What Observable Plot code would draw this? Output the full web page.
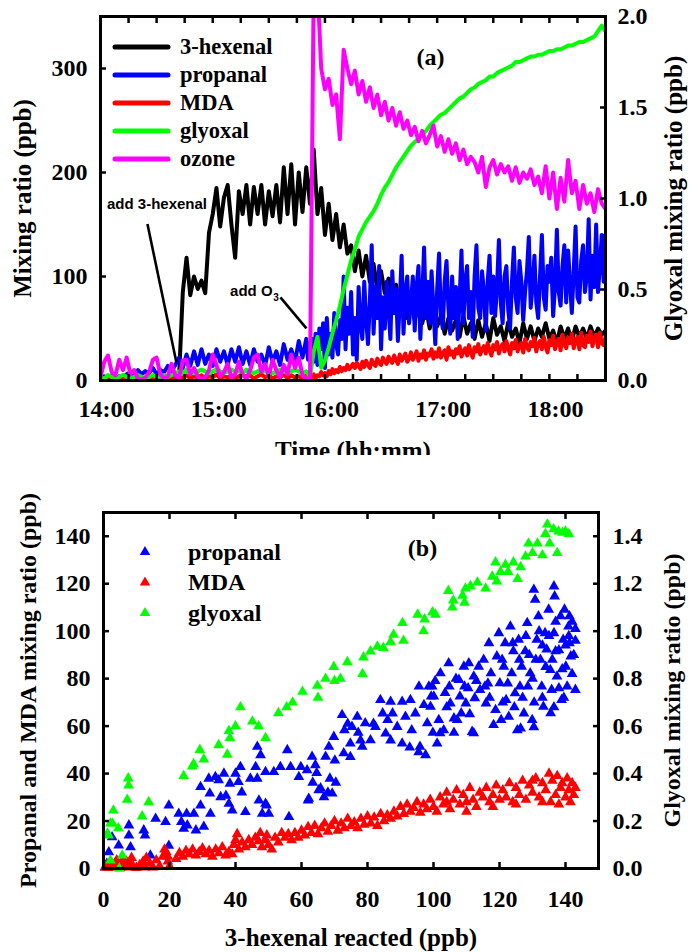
<!DOCTYPE html>
<html><head><meta charset="utf-8">
<script src="https://cdn.jsdelivr.net/npm/d3@7"></script>
<script src="https://cdn.jsdelivr.net/npm/@observablehq/plot@0.6"></script>
<style>
body{margin:0;background:#fff;}
#chart{width:694px;}
#chart svg{display:block;overflow:hidden;}
</style></head><body><div id="chart"></div>
<script>
// ---------- Panel (a): time series (minutes after 14:00) ----------
const sampleMinutes = [
  0,2,4,6,8,10,12,14,16,18,
  20,22,24,26,28,30,32,34,36,38,
  40,42,44,46,48,50,52,54,56,58,
  60,62,64,66,68,70,72,74,76,78,
  80,82,84,86,88,90,92,94,96,98,
  100,102,104,106,108,110,112,114,116,118,
  120,122,124,126,128,130,132,134,136,138,
  140,142,144,146,148,150,152,154,156,158,
  160,162,164,166,168,170,172,174,176,178,
  180,182,184,186,188,190,192,194,196,198,
  200,202,204,206,208,210,212,214,216,218,
  220,222,224,226,228,230,232,234,236,238,
  240,242,244,246,248,250,252,254,256,258,
  260,262,264,266,268,270];
// finer sampling used for the two fast-fluctuating products
const fineMinutes = [
  0,2,4,6,8,10,12,14,16,18,
  20,22,24,26,28,30,32,34,36,38,
  40,42,44,46,48,50,52,54,56,58,
  60,62,64,66,68,70,72,74,76,78,
  80,82,84,86,88,90,92,94,96,98,
  100,102,104,106,108,110,
  111,112,113,114,115,116,117,118,119,120,
  121,122,123,124,125,126,127,128,129,130,
  131,132,133,134,135,136,137,138,139,140,
  141,142,143,144,145,146,147,148,149,150,
  151,152,153,154,155,156,157,158,159,160,
  161,162,163,164,165,166,167,168,169,170,
  171,172,173,174,175,176,177,178,179,180,
  181,182,183,184,185,186,187,188,189,190,
  191,192,193,194,195,196,197,198,199,200,
  201,202,203,204,205,206,207,208,209,210,
  211,212,213,214,215,216,217,218,219,220,
  221,222,223,224,225,226,227,228,229,230,
  231,232,233,234,235,236,237,238,239,240,
  241,242,243,244,245,246,247,248,249,250,
  251,252,253,254,255,256,257,258,259,260,
  261,262,263,264,265,266,267,268,269,270];
const hexenalPpb = [
  0,1,0,1,2,1,0,1,1,2,
  1,0,1,2,1,1,0,1,2,1,
  1,3,85,118,82,100,88,96,84,142,
  160,185,148,176,188,150,118,182,160,188,
  150,186,160,188,150,182,158,188,152,205,
  160,208,150,200,162,205,170,222,160,185,
  140,170,135,160,128,150,122,130,105,125,
  100,120,95,112,88,105,84,98,75,92,
  68,85,60,78,58,72,55,70,50,66,
  52,62,45,60,48,58,42,62,45,55,
  40,58,42,55,38,60,44,52,38,56,
  42,50,36,55,40,52,38,50,42,55,
  40,48,36,52,40,50,38,52,42,50,
  40,52,42,50,44,48];
const propanalPpb = [
  2,4,3,5,2,4,3,6,8,5,
  10,6,9,7,12,6,10,8,14,9,
  15,22,12,25,14,28,15,30,16,25,
  14,30,18,28,15,30,18,32,16,28,
  15,30,18,25,14,32,18,28,15,35,
  20,30,18,38,22,40,
  20,35,40,18,45,15,50,30,55,12,
  60,25,45,22,65,35,25,58,40,100,
  30,70,45,85,25,60,20,90,55,40,
  95,60,35,75,130,45,90,60,110,30,
  80,50,95,70,40,105,65,88,38,75,
  120,45,85,100,55,75,100,48,90,110,
  40,80,128,60,95,55,105,70,35,88,
  122,62,50,95,115,70,45,100,60,90,
  40,78,125,55,95,110,60,85,42,100,
  130,70,60,105,85,48,95,120,65,100,
  62,90,135,75,55,100,110,68,50,95,
  128,80,65,115,95,58,85,105,138,70,
  90,120,75,60,100,140,80,68,110,95,
  118,62,90,145,85,72,110,130,75,125,
  95,65,105,148,80,75,115,130,85,100,
  155,78,120,90,150,85,110,140,95,140];
const mdaPpb = [
  1,2,0,3,1,2,0,1,3,2,
  1,0,2,3,1,2,0,1,3,2,
  4,2,3,5,2,4,3,5,2,4,
  3,6,2,4,3,5,2,4,6,3,
  5,2,4,6,3,5,2,4,3,6,
  2,5,3,4,2,5,
  2,4,3,6,2,5,4,8,5,7,
  4,9,6,11,7,10,8,13,9,12,
  10,15,11,13,16,12,17,14,11,18,
  13,19,15,12,20,16,14,21,17,15,
  22,18,16,23,19,17,24,20,16,25,
  19,22,26,18,21,27,20,23,28,19,
  25,22,29,20,26,24,30,21,27,23,
  31,22,26,29,20,32,25,28,22,30,
  26,33,23,28,31,24,34,27,22,32,
  28,35,25,30,33,26,36,29,24,34,
  30,37,26,32,35,28,38,31,25,36,
  31,39,28,33,36,27,40,32,29,37,
  33,41,28,35,38,30,42,33,27,39,
  34,43,30,36,40,29,44,35,31,41,
  36,45,31,38,42,30,46,34,32,43,
  37,47,33,40,44,32,46,36,34,42];
const glyoxalTopPpb = [
  0.02,0.01,0.03,0.02,0.01,0.02,0.03,0.02,0.01,0.02,
  0.03,0.02,0.01,0.02,0.03,0.02,0.02,0.03,0.02,0.03,
  0.04,0.05,0.04,0.06,0.05,0.04,0.05,0.06,0.05,0.04,
  0.05,0.06,0.05,0.04,0.05,0.06,0.05,0.05,0.04,0.06,
  0.05,0.04,0.05,0.06,0.05,0.05,0.04,0.05,0.06,0.05,
  0.04,0.05,0.06,0.05,0.04,0.05,0.02,0.16,0.24,0.07,
  0.11,0.18,0.26,0.33,0.41,0.50,0.58,0.66,0.72,0.79,
  0.83,0.87,0.90,0.93,0.97,1.02,1.06,1.09,1.13,1.17,
  1.20,1.23,1.26,1.29,1.31,1.33,1.35,1.37,1.40,1.42,
  1.44,1.46,1.47,1.49,1.51,1.53,1.55,1.56,1.58,1.60,
  1.61,1.63,1.64,1.65,1.67,1.67,1.69,1.70,1.71,1.72,
  1.73,1.75,1.75,1.76,1.77,1.78,1.78,1.79,1.79,1.80,
  1.81,1.81,1.82,1.82,1.83,1.84,1.84,1.85,1.86,1.86,
  1.87,1.88,1.89,1.92,1.95,1.92];
const ozonePpb = [
  3,18,24,8,5,20,10,22,6,10,
  2,1,3,8,20,22,6,2,4,16,
  5,2,19,20,6,12,4,1,3,10,
  25,15,4,8,16,3,6,18,5,2,
  10,22,25,8,16,4,20,10,3,15,
  6,25,12,22,5,2,0,380,380,300,
  280,290,265,275,232,318,300,285,298,275,
  288,268,282,262,275,255,268,250,262,245,
  258,242,250,236,244,230,240,228,236,245,
  225,235,220,232,218,228,212,222,208,215,
  210,200,215,186,205,212,198,208,200,206,
  192,205,190,200,194,203,188,196,180,206,
  175,200,165,195,172,212,180,192,165,188,
  170,180,162,184,170,165];

const timeMinorTicks = [0,15,30,45,60,75,90,105,120,135,150,165,180,195,210,225,240,255,270];
const timeLabelTicks = [0,60,120,180,240];
const timeLabels = ["14:00","15:00","16:00","17:00","18:00"];
const leftTicksA = [0,100,200,300];
const glyoxalTicksA = [0,0.5,1.0,1.5,2.0];
const seriesNamesA = ["3-hexenal","propanal","MDA","glyoxal","ozone"];
const seriesColorsA = ["#000000","#0000ff","#ff0000","#00ff00","#ff00ff"];

// ---------- Panel (b): scatter vs. 3-hexenal reacted ----------
const propanalPoints = [
  [0.5,0.5],[1,2],[1.6,6.9],[2.6,13.2],[4.6,9.7],[7.7,18.2],[7.7,13.9],[8.2,9.0],[12.2,16.1],[12.6,13.9],
  [14.2,5.5],[15.8,21],[18.8,19.6],[19.8,26.6],[19.8,9.6],[22.8,23.1],[23.6,19.6],[24.3,16.8],[25.2,23.1],[25.4,18.2],
  [27.4,23.1],[28.0,16.1],[29.4,26.6],[30.4,17.6],[29.4,34.4],[31.9,37.9],[32.2,31.6],[32.4,23.1],[33.9,38.6],[34.9,37.2],
  [35.5,30.1],[36.5,40.0],[37.1,30.7],[38.0,27.3],[38.3,35.8],[39.0,24.5],[40.0,40.0],[40.9,36.5],[41.5,42.8],[41.9,32.1],
  [43.0,23.8],[44.5,37.9],[46.1,42.8],[46.6,51.3],[46.6,37.9],[47.1,28.7],[47.6,47.8],[48.1,23.1],[49.1,40.7],[49.4,26.6],
  [49.1,27.3],[50.1,23.1],[51.6,40.7],[53.6,42.8],[55.7,49.9],[56.7,42.8],[56.2,21.7],[59.2,38.6],[59.8,42.8],[61.7,41.4],
  [62.2,29.4],[63.2,47.1],[63.4,36.2],[64.2,43.6],[64.6,40.3],[65.2,33.0],[66.8,30.1],[67.3,47.1],[68.3,51.3],[68.6,37.9],
  [69.3,31.6],[69.8,55.5],[70.1,45.5],[70.4,36.2],[72.3,64.7],[73.0,58.3],[74.8,52.7],[75.3,59.7],[76.9,64.0],[77.2,57.2],
  [78.4,51.3],[79.3,61.2],[80.9,54.1],[82.4,59.7],[83.9,71.0],[84.6,65.4],[85.5,56.9],[86.1,62.6],[87.0,70.3],[87.6,65.4],
  [89.0,59.7],[90.5,70.3],[90.5,52.7],[91.5,64.0],[93.0,71.0],[93.4,58.3],[94.5,65.4],[95.6,76.7],[95.9,51.3],[97.1,68.9],
  [98.1,61.2],[98.6,76.7],[99.3,72.5],[99.8,57.2],[62,28.7],[65.8,33.8],[68,32],[72.8,48.6],[74,61],[74.8,47],
  [77.9,54],[81.8,61],[87,54],[92.8,51],[95.5,49],[97.6,47.8],[102,57],[107.2,62.6],[112.2,57],[118.2,60.5],
  [126.4,59],[130.4,59.6],[135.5,65.5],[136.5,68],
  [99.1,68.2],[99.6,76.7],[100.1,72.5],[102.1,82.3],[101.6,62.6],[101.1,52.7],[103.1,58.3],[104.6,86.5],[104.8,76.7],[105.1,69.6],
  [106.2,63.3],[106.2,57.2],[107.7,79.5],[108.0,72.5],[108.4,65.4],[109.2,85.1],[109.4,76.7],[109.8,69.6],[110.7,86.5],[111.7,57.6],
  [112.2,80.9],[112.5,71.8],[113.7,85.1],[114.1,75.3],[115.2,88.0],[115.6,76.7],[115.9,69.6],[116.8,95.0],[117.4,82.3],[118.8,66.8],
  [119.2,89.4],[119.8,99.2],[120.1,78.1],[120.5,62.6],[121.3,85.1],[121.7,95.0],[122.0,71.0],[122.8,64.0],[123.3,102.0],[123.7,82.3],
  [124.2,91.6],[124.7,73.9],[125.4,58.3],[125.8,96.4],[126.2,76.7],[126.7,85.1],[127.4,65.4],[127.8,91.6],[128.4,103.5],[128.6,76.7],
  [129.3,82.3],[129.9,62.6],[130.4,117.5],[130.8,113.3],[131.3,96.4],[131.8,106.3],[132.4,88.0],[132.8,76.7],[133.3,68.2],[133.8,99.2],
  [134.3,92.3],[134.9,109.1],[135.4,83.7],[135.8,75.3],[136.5,118.9],[136.5,99.2],[136.7,114.7],[137.0,91.6],[137.4,80.9],[138.5,106.3],
  [138.8,71.0],[139.3,96.4],[139.7,109.1],[140.1,85.1],[140.5,76.7],[140.9,102.0],[141.2,95.0],[141.6,89.4],[143.0,75.3],[141.2,106.3],
  [120.8,88],[122.5,78],[124,95],[126,88],[128,98],[129,90],[130,80],[131,88],[132,100],[133,94],
  [134,85],[135,98],[136,88],[137,104],[138,92],[139,84],[140,94],[141,98],[142,82],[142.5,90],
  [143,96],[138,76],[139.5,72],[133,72],[130.5,70],[127,72],[124.5,68],[121,70],[116.5,78],[113,79],
  [110.5,76],[106.8,80],[103.5,74],[100.5,79],[104,68],[111,65],[117,72],[143,101],[142,104]];
const mdaPoints = [
  [0.5,0.5],[1,1.5],[1.5,0.3],[2,2.5],[2.5,1],[3,0.5],[3.5,2],[4,3.5],[4.5,1],[5,0.2],
  [5.5,2.5],[6,4],[6.5,1.5],[7,3],[7.5,0.5],[8,2],[8.5,4.5],[9,1],[10,0.3],[11,1.5],
  [12,3],[12.5,0.5],[13,4.5],[14,2],[15,0.5],[16,3.5],[17,1],[18,5],[18.5,8],[19,7],
  [19.5,3],[19.5,5],[20,1],
  [22,4],[23,6.5],[24,5],[25,7.5],[26,6],[27,8],[28,5.5],[29,7],[30,8.5],[31,6],
  [32,7.5],[33,5],[34,8],[35,6.5],[36,9],[37,5.5],[38,7],
  [39,6],[39.5,10],[40,12],[40.5,14.5],[41,8],[42,11],[43,9],[44,12],[45,10],[46,13],
  [47,11.5],[47.5,15],[48,9],[49,12],[49.5,14],[50,10],[51,8],[52,13],[53,11],[54,15],
  [55,13],[56,14.5],[57,12],
  [58,15],[59,13],[60,16],[61,14],[62,17.5],[63,15],[64,18],[65,14.5],[66,17],[67,19],
  [68,15.5],[69,18],[70,20],[71,16],[72,19],[73,17],[74,21],[75,18],
  [76,19.5],[77,17],[78,21],[79,18.5],[80,22],[81,19],[82,21.5],[83,18],[84,23],[85,20],
  [86,22.5],[87,21],
  [88,24],[89,22],[90,26],[91,23],[92,27],[93,24],[94,25.5],[95,28],[96,23.5],[97,27],
  [98,25],[99,29],[100,26],
  [101,24],[102,30],[103,27],[104,32],[105,25],[106,29],[107,33],[108,27],[109,31],[110,28],
  [111,34],[112,29],[113,26],[114,32],[115,30],[116,34],[117,28],[118,31],[119,35],[120,29],
  [104,28],[110,24],[118,26],[125,27],[130,37],[133,28],
  [121,33],[122,30],[123,36],[124,28],[125,34],[126,31],[127,37],[128,29],[129,35],[130,32],
  [131,38],[132,30],[133,36],[134,33],[135,40],[135.5,28],[136,37],[137,31],[137.5,39],[138,27],
  [138.5,34],[139,36],[140,30],[140.5,38],[141,33],[141.5,28],[142,36],[142.5,31],[143,34]];
const glyoxalPoints = [
  [1.2,0.148],[1.5,0.14],[2.1,0.19],[2.7,0.19],[3.0,0.245],[2.1,0.034],[4.5,0.17],[4.8,0.0],[5.7,0.055],[7.2,0.29],
  [7.5,0.38],[7.6,0.35],[11.7,0.22],[13.7,0.28],[24.3,0.39],[26.9,0.43],[27.3,0.44],[29.2,0.50],[30.4,0.46],[34.9,0.52],
  [37.5,0.48],[38.0,0.58],[38.3,0.55],[40.0,0.60],[41.5,0.68],[45.1,0.62],[47.0,0.60],[49.1,0.55],[53.0,0.655],[55.5,0.68],
  [57.3,0.70],[60.3,0.745],[64.8,0.77],[65.0,0.72],[67.3,0.80],[69.8,0.85],[70.0,0.79],[71.8,0.80],[73.9,0.87],[78.5,0.82],
  [78.8,0.89],[80.9,0.915],[83.0,0.935],[84.8,0.93],[87.0,0.955],[87.9,0.985],[90.6,1.035],[90.9,0.96],[95.2,1.07],[97.0,1.0],
  [97.3,1.05],[99.7,1.08],[100.6,1.07],[104.5,1.17],[105.7,1.10],[106,1.13],[108.8,1.15],[109.7,1.18],[109.4,1.12],[111.2,1.19],
  [113.3,1.205],[115.8,1.18],[117.8,1.23],[118.8,1.29],[119.2,1.21],[120.3,1.25],[121.8,1.28],[122.6,1.25],[124.2,1.29],[125.5,1.22],
  [126.4,1.27],[127.9,1.315],[128.8,1.37],[130,1.33],[131.5,1.37],[133,1.32],[133.9,1.41],[134.5,1.45],[135.2,1.37],[136.4,1.43],
  [137.5,1.33],[137.9,1.42],[139.1,1.415],[140,1.42],[141,1.41]];
const reactedTicks = [0,20,40,60,80,100,120,140];
const leftTicksB = [0,20,40,60,80,100,120,140];
const glyoxalTicksB = [0,0.2,0.4,0.6,0.8,1.0,1.2,1.4];
const seriesNamesB = ["propanal","MDA","glyoxal"];
const seriesColorsB = ["#0000ff","#ff0000","#00ff00"];

// ---------- helpers ----------
const SERIF = "'Liberation Serif','Times New Roman',serif";
const SANS = "'Liberation Sans',Arial,sans-serif";
const GLY_A = 175;   // 2.0 ppb glyoxal  <-> 350 ppb on the left axis
const GLY_B = 100;   // 1.5 ppb glyoxal  <-> 150 ppb on the left axis

const rowsA = sampleMinutes.map((t, i) => ({
  t, hexenal: hexenalPpb[i], glyoxal: glyoxalTopPpb[i] * GLY_A, ozone: ozonePpb[i]
}));
const rowsFine = fineMinutes.map((t, i) => ({t, propanal: propanalPpb[i], mda: mdaPpb[i]}));
const lineSpecs = [
  {rows: rowsA, key: "hexenal", color: seriesColorsA[0]},
  {rows: rowsFine, key: "propanal", color: seriesColorsA[1]},
  {rows: rowsFine, key: "mda", color: seriesColorsA[2]},
  {rows: rowsA, key: "glyoxal", color: seriesColorsA[3]},
  {rows: rowsA, key: "ozone", color: seriesColorsA[4]}
];

const annoHexenal = [{label: "add 3-hexenal", t: 30.2, v: 170}];
const annoOzone = [{label: "add O", t: 92.0, v: 86}];
const annoOzoneSub = [{label: "3", t: 92.3, v: 80}];
const annotationLinesA = [
  {t1: 25.1, v1: 150.4, t2: 40.6, v2: 17.4},
  {t1: 96.2, v1: 80.0, t2: 110.1, v2: 50.1}
];

function legendA(index, scales, values, dims) {
  const g = d3.create("svg:g");
  seriesNamesA.forEach((name, i) => {
    const y = dims.marginTop + 31 + i * 28;
    g.append("line")
      .attr("x1", dims.marginLeft + 15).attr("x2", dims.marginLeft + 68)
      .attr("y1", y).attr("y2", y)
      .attr("stroke", seriesColorsA[i]).attr("stroke-width", 5).attr("stroke-linecap", "round");
    g.append("text")
      .attr("x", dims.marginLeft + 80).attr("y", y).attr("dy", "0.33em")
      .attr("text-anchor", "start")
      .attr("font-family", SERIF).attr("font-weight", "bold").attr("font-size", 22.5)
      .attr("fill", "#000").text(name);
  });
  return g.node();
}
function legendB(index, scales, values, dims) {
  const g = d3.create("svg:g");
  const tri = d3.symbol(d3.symbolTriangle, 48)();
  seriesNamesB.forEach((name, i) => {
    const y = dims.marginTop + 40 + i * 30.5;
    g.append("path").attr("d", tri)
      .attr("transform", `translate(${dims.marginLeft + 42},${y})`)
      .attr("fill", seriesColorsB[i]);
    g.append("text")
      .attr("x", dims.marginLeft + 85).attr("y", y).attr("dy", "0.33em")
      .attr("text-anchor", "start")
      .attr("font-family", SERIF).attr("font-weight", "bold").attr("font-size", 24)
      .attr("fill", "#000").text(name);
  });
  return g.node();
}

const tickStyle = {strokeWidth: 2.5, label: null, tickFormat: () => ""};
const textStyle = {fontSize: 24, fontWeight: "bold", fontFamily: SERIF, label: null, tickSize: 0};

// ---------- Panel (a) ----------
const plotA = Plot.plot({
  width: 694, height: 455,
  marginLeft: 100, marginRight: 89, marginTop: 16, marginBottom: 75,
  style: {fontFamily: SERIF, fontWeight: "bold", color: "#000", background: "#fff", overflow: "hidden"},
  x: {type: "linear", domain: [0, 270], axis: null},
  y: {domain: [0, 350], axis: null},
  marks: [
    ...lineSpecs.map(s => Plot.line(s.rows, {
      x: "t", y: s.key, stroke: s.color, strokeWidth: 4,
      strokeLinejoin: "round", clip: true
    })),
    Plot.link(annotationLinesA, {x1: "t1", y1: "v1", x2: "t2", y2: "v2", stroke: "#000", strokeWidth: 2.6}),
    Plot.text(annoHexenal, {x: "t", y: "v", text: "label", textAnchor: "middle",
      fontFamily: SANS, fontWeight: "bold", fontSize: 15, fill: "#000"}),
    Plot.text(annoOzone, {x: "t", y: "v", text: "label", textAnchor: "end",
      fontFamily: SANS, fontWeight: "bold", fontSize: 15, fill: "#000"}),
    Plot.text(annoOzoneSub, {x: "t", y: "v", text: "label", textAnchor: "start",
      fontFamily: SANS, fontWeight: "bold", fontSize: 10, fill: "#000"}),
    Plot.frame({stroke: "#000", strokeWidth: 3}),
    Plot.axisX({ticks: timeMinorTicks, anchor: "bottom", tickSize: -6, ...tickStyle}),
    Plot.axisX({ticks: timeMinorTicks, anchor: "top", tickSize: -6, ...tickStyle}),
    Plot.axisX({ticks: timeLabelTicks, anchor: "bottom", tickPadding: 19, dx: 6,
      ...textStyle, tickFormat: d => timeLabels[timeLabelTicks.indexOf(d)]}),
    Plot.axisY({ticks: leftTicksA, anchor: "left", tickSize: -6, ...tickStyle}),
    Plot.axisY({ticks: leftTicksA, anchor: "left", tickPadding: 13, ...textStyle, tickFormat: d => String(d)}),
    Plot.axisY({ticks: glyoxalTicksA.map(v => v * GLY_A), anchor: "right", tickSize: -6, ...tickStyle}),
    Plot.axisY({ticks: glyoxalTicksA.map(v => v * GLY_A), anchor: "right", tickPadding: 12,
      ...textStyle, tickFormat: d => (d / GLY_A).toFixed(1)}),
    Plot.text(["Mixing ratio (ppb)"], {text: d => d, frameAnchor: "left", rotate: -90, dx: -78,
      textAnchor: "middle", lineAnchor: "middle", fontSize: 25, fontWeight: "bold", fontFamily: SERIF}),
    Plot.text(["Glyoxal mixing ratio (ppb)"], {text: d => d, frameAnchor: "right", rotate: -90, dx: 68,
      textAnchor: "middle", lineAnchor: "middle", fontSize: 25, fontWeight: "bold", fontFamily: SERIF}),
    Plot.text(["Time (hh:mm)"], {text: d => d, frameAnchor: "bottom", dy: 61,
      textAnchor: "middle", lineAnchor: "top", fontSize: 25, fontWeight: "bold", fontFamily: SERIF}),
    Plot.text(["(a)"], {text: d => d, frameAnchor: "top-left", dx: 330, dy: 41,
      textAnchor: "middle", lineAnchor: "middle", fontSize: 24, fontWeight: "bold", fontFamily: SERIF}),
    legendA
  ]
});

// ---------- Panel (b) ----------
const plotB = Plot.plot({
  width: 694, height: 497,
  marginLeft: 103, marginRight: 96, marginTop: 57, marginBottom: 84,
  style: {fontFamily: SERIF, fontWeight: "bold", color: "#000", background: "#fff", overflow: "hidden"},
  x: {domain: [0, 150], axis: null},
  y: {domain: [0, 150], axis: null},
  marks: [
    Plot.dot(propanalPoints, {x: d => d[0], y: d => d[1], symbol: "triangle", r: 4, fill: seriesColorsB[0], stroke: null}),
    Plot.dot(mdaPoints, {x: d => d[0], y: d => d[1], symbol: "triangle", r: 4, fill: seriesColorsB[1], stroke: null}),
    Plot.dot(glyoxalPoints, {x: d => d[0], y: d => d[1] * GLY_B, symbol: "triangle", r: 4, fill: seriesColorsB[2], stroke: null}),
    Plot.frame({stroke: "#000", strokeWidth: 3}),
    Plot.axisX({ticks: reactedTicks, anchor: "bottom", tickSize: -6, ...tickStyle}),
    Plot.axisX({ticks: reactedTicks, anchor: "top", tickSize: -6, ...tickStyle}),
    Plot.axisX({ticks: reactedTicks, anchor: "bottom", tickPadding: 21, ...textStyle, tickFormat: d => String(d)}),
    Plot.axisY({ticks: leftTicksB, anchor: "left", tickSize: -6, ...tickStyle}),
    Plot.axisY({ticks: leftTicksB, anchor: "left", tickPadding: 13, ...textStyle, tickFormat: d => String(d)}),
    Plot.axisY({ticks: glyoxalTicksB.map(v => v * GLY_B), anchor: "right", tickSize: -6, ...tickStyle}),
    Plot.axisY({ticks: glyoxalTicksB.map(v => v * GLY_B), anchor: "right", tickPadding: 14,
      ...textStyle, tickFormat: d => (d / GLY_B).toFixed(1)}),
    Plot.text(["Propanal and MDA mixing ratio (ppb)"], {text: d => d, frameAnchor: "left", rotate: -90, dx: -75,
      textAnchor: "middle", lineAnchor: "middle", fontSize: 24, fontWeight: "bold", fontFamily: SERIF}),
    Plot.text(["Glyoxal mixing ratio (ppb)"], {text: d => d, frameAnchor: "right", rotate: -90, dx: 74,
      textAnchor: "middle", lineAnchor: "middle", fontSize: 24, fontWeight: "bold", fontFamily: SERIF}),
    Plot.text(["3-hexenal reacted (ppb)"], {text: d => d, frameAnchor: "bottom", dy: 60,
      textAnchor: "middle", lineAnchor: "top", fontSize: 25, fontWeight: "bold", fontFamily: SERIF}),
    Plot.text(["(b)"], {text: d => d, frameAnchor: "top-left", dx: 319, dy: 36,
      textAnchor: "middle", lineAnchor: "middle", fontSize: 24, fontWeight: "bold", fontFamily: SERIF}),
    legendB
  ]
});

const chart = document.getElementById("chart");
chart.appendChild(plotA);
chart.appendChild(plotB);
</script></body></html>
